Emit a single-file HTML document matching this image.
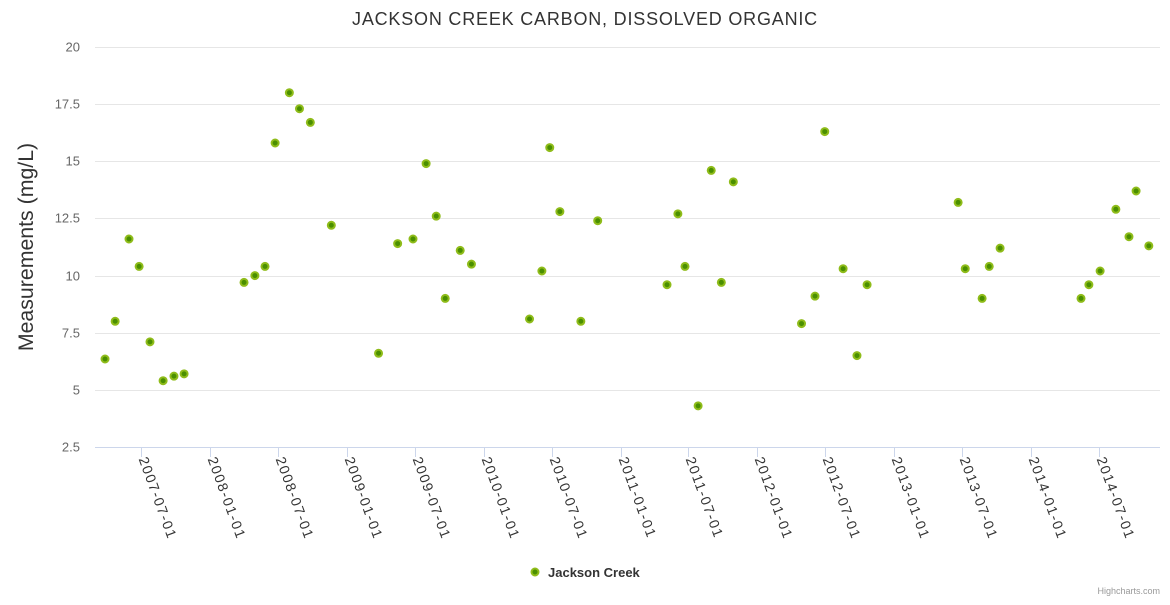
<!DOCTYPE html>
<html><head><meta charset="utf-8"><style>
body{margin:0;background:#fff;font-family:"Liberation Sans","DejaVu Sans",sans-serif}
svg text{font-family:"Liberation Sans","DejaVu Sans",sans-serif}
</style></head><body>
<svg id="chart" width="1170" height="600" xmlns="http://www.w3.org/2000/svg">
<text x="585" y="25" text-anchor="middle" font-size="18" letter-spacing="0.8" fill="#333">JACKSON CREEK CARBON, DISSOLVED ORGANIC</text>
<g id="grid"></g>
<g id="yticks"></g>
<g id="xticks"></g>
<text transform="translate(33,247) rotate(-90)" text-anchor="middle" font-size="21.3" fill="#333">Measurements (mg/L)</text>
<g id="points"></g>
<g>
<circle cx="535" cy="572" r="3.5" fill="#4a8f00" stroke="#8fbc1a" stroke-width="2"/>
<text x="548" y="577" font-size="13" font-weight="bold" fill="#333">Jackson Creek</text>
</g>
<text x="1160" y="594" text-anchor="end" font-size="9" fill="#999">Highcharts.com</text>
</svg>
<script>
const dates=["2007-03-27","2007-04-23","2007-05-30","2007-06-26","2007-07-25","2007-08-29","2007-09-27","2007-10-24",
"2008-04-01","2008-04-30","2008-05-27","2008-06-23","2008-07-31","2008-08-27","2008-09-25","2008-11-20",
"2009-03-26","2009-05-16","2009-06-26","2009-07-31","2009-08-27","2009-09-20","2009-10-30","2009-11-29",
"2010-05-03","2010-06-05","2010-06-26","2010-07-23","2010-09-17","2010-11-01",
"2011-05-05","2011-06-03","2011-06-22","2011-07-27","2011-08-31","2011-09-27","2011-10-29",
"2012-04-28","2012-06-03","2012-06-29","2012-08-17","2012-09-23","2012-10-20",
"2013-06-20","2013-07-09","2013-08-23","2013-09-11","2013-10-10",
"2014-05-14","2014-06-04","2014-07-04","2014-08-15","2014-09-19","2014-10-08","2014-11-11"];
const values=[6.35,8.0,11.6,10.4,7.1,5.4,5.6,5.7,
9.7,10.0,10.4,15.8,18.0,17.3,16.7,12.2,
6.6,11.4,11.6,14.9,12.6,9.0,11.1,10.5,
8.1,10.2,15.6,12.8,8.0,12.4,
9.6,12.7,10.4,4.3,14.6,9.7,14.1,
7.9,9.1,16.3,10.3,6.5,9.6,
13.2,10.3,9.0,10.4,11.2,
9.0,9.6,10.2,12.9,11.7,13.7,11.3];
const yTicks=[2.5,5,7.5,10,12.5,15,17.5,20];
const yTickLabels=["2.5","5","7.5","10","12.5","15","17.5","20"];
const xTicks=["2007-07-01","2008-01-01","2008-07-01","2009-01-01","2009-07-01","2010-01-01","2010-07-01","2011-01-01","2011-07-01","2012-01-01","2012-07-01","2013-01-01","2013-07-01","2014-01-01","2014-07-01"];

const NS="http://www.w3.org/2000/svg";
const L=95,R=1160,T=47,B=447;
const t0=Date.parse("2007-07-01"),t1=Date.parse("2014-07-01");
function xs(d){return 141+(Date.parse(d)-t0)/(t1-t0)*(1099-141);}
function ys(v){return B-(v-2.5)/(20-2.5)*(B-T);}
function mk(tag,a,p){const e=document.createElementNS(NS,tag);for(const k in a)e.setAttribute(k,a[k]);p.appendChild(e);return e;}
const grid=document.getElementById('grid'),yg=document.getElementById('yticks'),xg=document.getElementById('xticks'),pg=document.getElementById('points');
yTicks.forEach((v,i)=>{
 const y=Math.round(ys(v))+0.5;
 const ln=mk('line',{x1:L,x2:R,y1:y,y2:y,stroke:i==0?'#ccd6eb':'#e6e6e6','stroke-width':1},grid);
 
 
 const tx=mk('text',{x:80,y:y+4,'text-anchor':'end','font-size':13,fill:'#666'},yg);
 tx.textContent=yTickLabels[i];
 
 
});
xTicks.forEach(d=>{
 const x=Math.round(xs(d))+0.5;
 const tk=mk('line',{x1:x,x2:x,y1:B,y2:B+10,stroke:'#ccd6eb'},xg);
 
 
 const tx=mk('text',{transform:`translate(${x-3},${B+12}) rotate(70)`,'font-size':14,'letter-spacing':1.5,fill:'#333'},xg);
 tx.textContent=d;
 
 
});
dates.forEach((d,i)=>{
 const c=mk('circle',{cx:xs(d),cy:ys(values[i]),r:3.5,fill:'#4a8f00',stroke:'#8fbc1a','stroke-width':2},pg);
 
 
});
</script>
</body></html>
